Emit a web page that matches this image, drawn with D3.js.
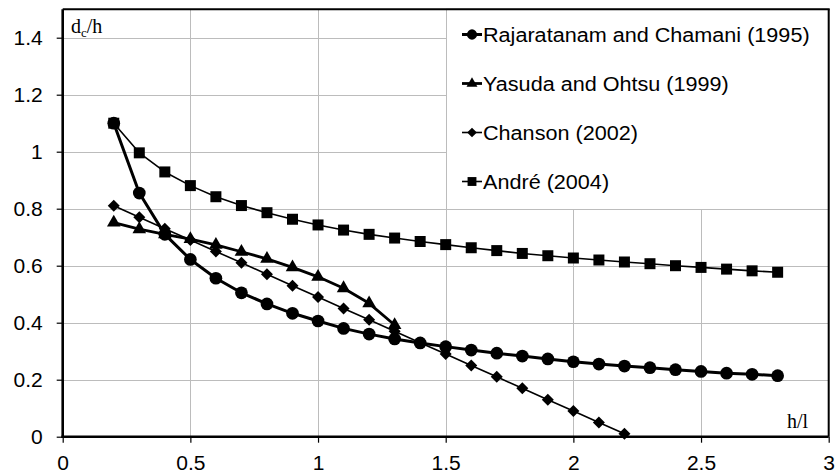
<!DOCTYPE html>
<html>
<head>
<meta charset="utf-8">
<script src="https://cdn.jsdelivr.net/npm/d3@7"></script>
<style>
  html, body { margin: 0; padding: 0; background: #fff; }
  svg { display: block; }
</style>
</head>
<body>
<svg id="chart" width="838" height="476"></svg>
<script>
// h/l values shared by all series
const hl = [0.2, 0.3, 0.4, 0.5, 0.6, 0.7, 0.8, 0.9, 1.0, 1.1, 1.2, 1.3, 1.4,
            1.5, 1.6, 1.7, 1.8, 1.9, 2.0, 2.1, 2.2, 2.3, 2.4, 2.5, 2.6, 2.7, 2.8];

// dc/h for each source
const rajaratanam = [1.10, 0.855, 0.71, 0.622, 0.556, 0.505, 0.466, 0.433, 0.406, 0.380, 0.360, 0.343, 0.329,
                     0.316, 0.304, 0.293, 0.283, 0.273, 0.263, 0.255, 0.248, 0.242, 0.235, 0.229, 0.223, 0.219, 0.214];
const yasuda = [0.751, 0.728, 0.710, 0.693, 0.673, 0.649, 0.624, 0.594, 0.561, 0.521, 0.468, 0.392];
const chanson = [0.81, 0.77, 0.73, 0.69, 0.65, 0.61, 0.57, 0.53, 0.49, 0.45, 0.41, 0.37, 0.33,
                 0.29, 0.25, 0.21, 0.17, 0.13, 0.09, 0.05, 0.01];
const andre = [1.10, 0.996, 0.929, 0.881, 0.842, 0.811, 0.786, 0.763, 0.743, 0.725, 0.710, 0.697, 0.685,
               0.674, 0.663, 0.653, 0.643, 0.635, 0.627, 0.620, 0.613, 0.607, 0.600, 0.594, 0.588, 0.582, 0.577];

const seriesNames = ["Rajaratanam and Chamani (1995)", "Yasuda and Ohtsu (1999)", "Chanson (2002)", "André (2004)"];
const xTicks = [0, 0.5, 1, 1.5, 2, 2.5, 3];
const yTicks = [0, 0.2, 0.4, 0.6, 0.8, 1, 1.2, 1.4];

// square diamond (rotated square) marker
const symbolSquareDiamond = {
  draw(ctx, size) {
    const r = Math.sqrt(size / 2);
    ctx.moveTo(0, -r); ctx.lineTo(r, 0); ctx.lineTo(0, r); ctx.lineTo(-r, 0); ctx.closePath();
  }
};

const series = [
  { name: seriesNames[3], values: andre,       symbol: d3.symbolSquare,      size: 121, width: 1.6 },
  { name: seriesNames[2], values: chanson,     symbol: symbolSquareDiamond,  size: 72,  width: 1.6 },
  { name: seriesNames[1], values: yasuda,      symbol: d3.symbolTriangle,    size: 80,  width: 2.8 },
  { name: seriesNames[0], values: rajaratanam, symbol: d3.symbolCircle,      size: 127, width: 3 }
];

const svg = d3.select("#chart");
const x = d3.scaleLinear().domain([0, 3]).range([62.7, 828.7]);
const y = d3.scaleLinear().domain([0, 1.5]).range([436.7, 9.2]);

const SANS = "'Liberation Sans', Arial, sans-serif";
const SERIF = "'Liberation Serif', 'Times New Roman', serif";
function widen(sel, k) {
  sel.each(function () {
    const len = this.getComputedTextLength();
    d3.select(this).attr("textLength", len * k).attr("lengthAdjust", "spacingAndGlyphs");
  });
}

// gridlines
const grid = svg.append("g").attr("stroke", "#bcbcbc").attr("stroke-width", 1);
grid.selectAll("line.h").data(yTicks.filter(v => v > 0)).join("line")
  .attr("x1", x(0)).attr("x2", x(3))
  .attr("y1", d => Math.round(y(d)) + 0.5).attr("y2", d => Math.round(y(d)) + 0.5);
grid.selectAll("line.v").data(xTicks.filter(v => v > 0 && v < 3)).join("line")
  .attr("y1", y(0)).attr("y2", y(1.5))
  .attr("x1", d => Math.round(x(d)) + 0.5).attr("x2", d => Math.round(x(d)) + 0.5);

// legend panel (upper right corner of the plot)
const lx0 = Math.round(x(1.5)) + 0.5, ly1 = Math.round(y(0.8)) + 0.5;
svg.append("rect")
  .attr("x", lx0).attr("y", y(1.5))
  .attr("width", x(3) - lx0).attr("height", ly1 - y(1.5))
  .attr("fill", "#fff").attr("stroke", "#bcbcbc").attr("stroke-width", 1);

// series lines and markers
const line = d3.line().x(d => x(d[0])).y(d => y(d[1]));
const plot = svg.append("g");
series.forEach(s => {
  const pts = s.values.map((v, i) => [hl[i], v]);
  plot.append("path").datum(pts)
    .attr("d", line).attr("fill", "none")
    .attr("stroke", "#000").attr("stroke-width", s.width).attr("stroke-linejoin", "round");
  plot.append("g").selectAll("path").data(pts).join("path")
    .attr("transform", d => `translate(${x(d[0])},${y(d[1])})`)
    .attr("d", d3.symbol(s.symbol, s.size))
    .attr("fill", "#000");
});

// frame: heavy axes on left/bottom, border on top/right
svg.append("line").attr("x1", x(0)).attr("x2", x(3) + 1).attr("y1", y(1.5)).attr("y2", y(1.5))
  .attr("stroke", "#000").attr("stroke-width", 2);
svg.append("line").attr("x1", x(3)).attr("x2", x(3)).attr("y1", y(1.5)).attr("y2", y(0))
  .attr("stroke", "#000").attr("stroke-width", 2);

const xAxis = svg.append("g").attr("transform", `translate(0,${y(0)})`)
  .call(d3.axisBottom(x).tickValues(xTicks).tickSize(6).tickPadding(13).tickFormat(d3.format("")));
const yAxis = svg.append("g").attr("transform", `translate(${x(0)},0)`)
  .call(d3.axisLeft(y).tickValues(yTicks).tickSize(6).tickPadding(14).tickFormat(d3.format("")));
[xAxis, yAxis].forEach(a => {
  a.select(".domain").attr("stroke", "#000").attr("stroke-width", 2.6);
  a.selectAll(".tick line").attr("stroke", "#000").attr("stroke-width", 1.2);
  a.selectAll(".tick text").attr("fill", "#000").attr("font-family", SANS).attr("font-size", 20);
});
yAxis.select(".domain").attr("d", `M0,${y(0) + 1.3}V${y(1.5)}`);
xAxis.select(".domain").attr("d", `M${x(0) - 1.3},0H${x(3)}`);
xAxis.selectAll(".tick text").attr("dy", "0.71em");
yAxis.selectAll(".tick text").attr("dy", "0.36em");
widen(xAxis.selectAll(".tick text"), 1.05);
widen(yAxis.selectAll(".tick text"), 1.05);

// axis titles
const yt = svg.append("text").attr("x", 71).attr("y", 33)
  .attr("font-family", SERIF).attr("font-size", 20).attr("fill", "#000");
yt.append("tspan").text("d");
yt.append("tspan").attr("font-size", 13).attr("dy", 4).text("c");
yt.append("tspan").attr("dy", -4).text("/h");

svg.append("text").attr("x", 808).attr("y", 428).attr("text-anchor", "end")
  .attr("font-family", SERIF).attr("font-size", 20).attr("fill", "#000").text("h/l");

// legend entries
const legendOrder = [series[3], series[2], series[1], series[0]];
const leg = svg.append("g");
legendOrder.forEach((s, i) => {
  const cy = 34.5 + i * 49;
  const g = leg.append("g").attr("transform", `translate(472,${cy})`);
  g.append("line").attr("x1", -10).attr("x2", 10).attr("y1", 0).attr("y2", 0)
    .attr("stroke", "#000").attr("stroke-width", s.width);
  g.append("path").attr("d", d3.symbol(s.symbol, s.size * 0.65)).attr("fill", "#000");
  const t = leg.append("text").attr("x", 483).attr("y", cy).attr("dy", "0.36em")
    .attr("font-family", SANS).attr("font-size", 20).attr("fill", "#000").text(s.name);
  widen(t, 1.08);
});
</script>
</body>
</html>
